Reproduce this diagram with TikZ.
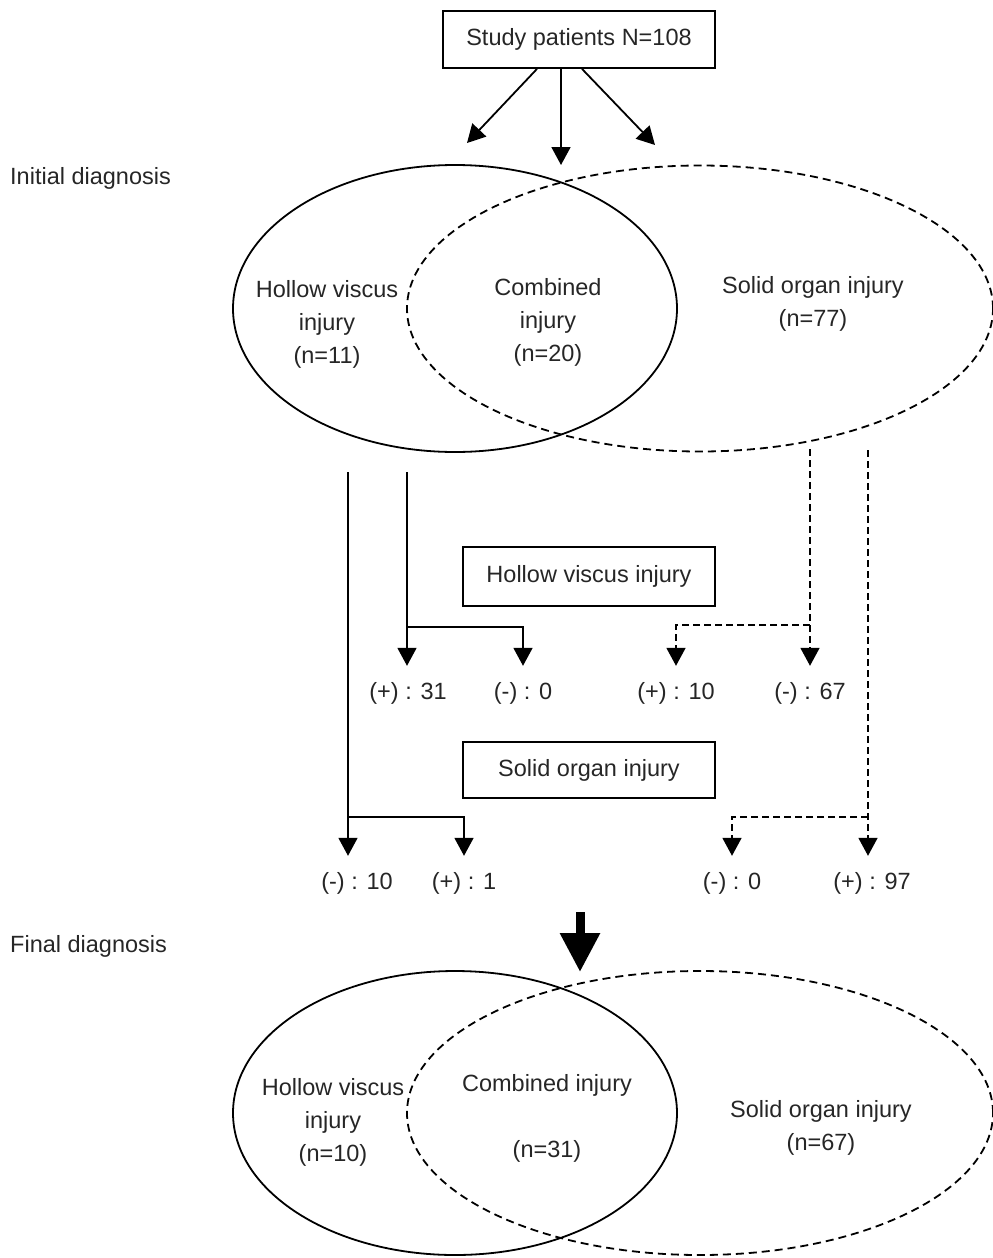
\documentclass[tikz,border=0pt]{standalone}
\usepackage{fontspec}
\setmainfont{Liberation Sans}
\usetikzlibrary{arrows.meta,shapes.geometric}
\begin{document}
\begin{tikzpicture}[x=1pt,y=-1pt,
  every node/.style={font=\fontsize{23.5}{33}\selectfont, text=black!85},
  rectbox/.style={draw=black, line width=1.8pt, inner sep=0pt},
  venn/.style={ellipse, draw=black, line width=1.8pt, inner sep=0pt, minimum width=444pt, minimum height=287pt},
  venndash/.style={ellipse, draw=black, line width=1.8pt, inner sep=0pt, minimum width=586pt, minimum height=286pt, dash pattern=on 8pt off 5pt},
  vtext/.style={align=center, inner sep=0pt},
  labelnode/.style={inner sep=0pt, text height=17pt, text depth=5pt, anchor=base},
  arr/.style={line width=1.8pt, -{Triangle[width=19pt,length=18pt]}},
  dsh/.style={dash pattern=on 7pt off 4pt},
  tolab/.style={shorten >=16pt},
  ln/.style={line width=1.8pt}
]
\useasboundingbox (0,0) rectangle (993,1258);

% left titles
\node[anchor=west, inner sep=0pt] (init) at (10,178) {Initial diagnosis};
\node[anchor=west, inner sep=0pt] (final) at (10,946) {Final diagnosis};

% top box
\node[rectbox, minimum width=272pt, minimum height=57pt] (study) at (579,39.5) {Study patients N=108};
\coordinate (tl) at (467,143);
\coordinate (tm) at (561,165);
\coordinate (tr) at (655,145);
\draw[arr] ([xshift=-42pt]study.south) -- (tl);
\draw[arr] ([xshift=-18pt]study.south) -- (tm);
\draw[arr] ([xshift=3pt]study.south) -- (tr);

% initial venn
\node[venn] (ihv) at (455,308.5) {};
\node[venndash] (iso) at (700,308.5) {};
\node[vtext] (ihvt) at (327,324) {Hollow viscus\\injury\\(n=11)};
\node[vtext] (icbt) at (548,322) {Combined\\injury\\(n=20)};
\node[vtext] (isot) at (813,304) {Solid organ injury\\(n=77)};

% test boxes
\node[rectbox, minimum width=252pt, minimum height=59pt] (hvbox) at (589,576.5) {Hollow viscus injury};
\node[rectbox, minimum width=252pt, minimum height=56pt] (sobox) at (589,770) {Solid organ injury};

% result labels row 1
\node[labelnode] (p31) at (408,699) {(+) : 31};
\node[labelnode] (m0a) at (523,699) {(-) : 0};
\node[labelnode] (p10) at (676,699) {(+) : 10};
\node[labelnode] (m67) at (810,699) {(-) : 67};
% result labels row 2
\node[labelnode] (m10) at (357,889) {(-) : 10};
\node[labelnode] (p1) at (464,889) {(+) : 1};
\node[labelnode] (m0b) at (732,889) {(-) : 0};
\node[labelnode] (p97) at (872,889) {(+) : 97};

% solid flow lines
\coordinate (sa) at (348,472);
\coordinate (sb) at (407,472);
\coordinate (sbj) at (407,627);
\coordinate (saj) at (348,817);
\draw[arr, tolab] (sb) -- (sb |- p31.north);
\draw[arr, tolab] (sbj) -| (m0a.north);
\draw[arr, tolab] (sa) -- (sa |- m10.north);
\draw[arr, tolab] (saj) -| (p1.north);

% dashed flow lines
\coordinate (da) at (810,449);
\coordinate (db) at (868,450);
\coordinate (daj) at (810,625);
\coordinate (dbj) at (868,817);
\draw[arr, dsh, tolab] (da) -- (da |- m67.north);
\draw[arr, dsh, tolab] (daj) -| (p10.north);
\draw[arr, dsh, tolab] (db) -- (db |- p97.north);
\draw[arr, dsh, tolab] (dbj) -| (m0b.north);

% big arrow
\coordinate (bs) at (580,912);
\coordinate (be) at (580,972);
\draw[line width=9pt, -{Triangle[width=38pt,length=39pt]}] (bs) -- (be);

% final venn
\node[venn, minimum height=284pt] (fhv) at (455,1113) {};
\node[venndash, minimum height=284pt] (fso) at (700,1113) {};
\node[vtext] (fhvt) at (333,1122) {Hollow viscus\\injury\\(n=10)};
\node[vtext] (fcbt) at (547,1118) {Combined injury\\\mbox{}\\(n=31)};
\node[vtext] (fsot) at (821,1128) {Solid organ injury\\(n=67)};
\end{tikzpicture}
\end{document}
